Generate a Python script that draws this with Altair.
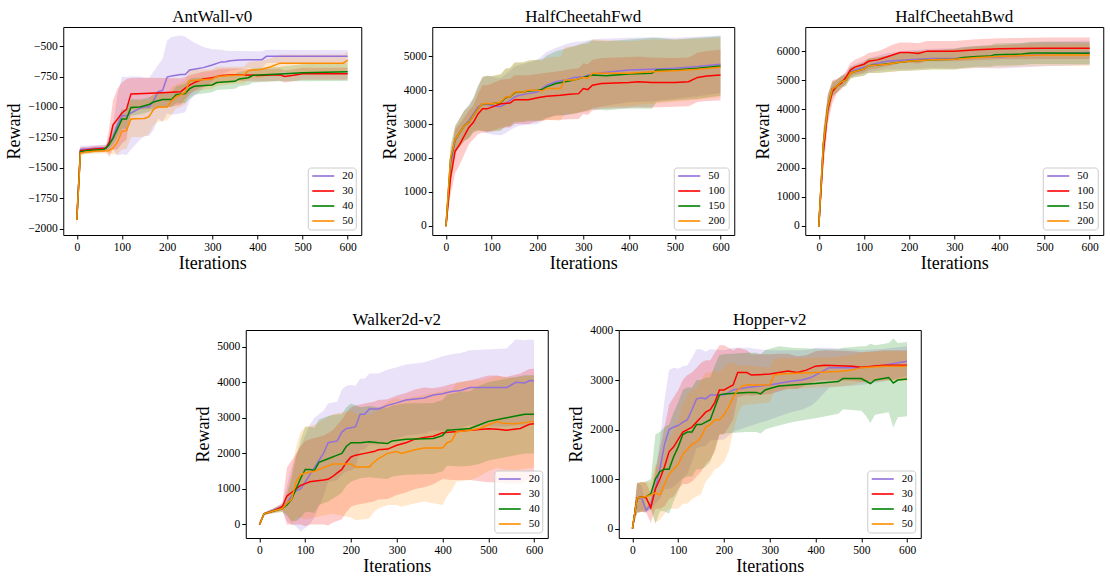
import altair as alt
import pandas as pd

FONT = "Liberation Serif"
PALETTE = ["#9370DB", "#FF0000", "#008000", "#FF8C00"]
X_TICKS = [0, 100, 200, 300, 400, 500, 600]
X_DOMAIN = [-30, 630]

# ---------------- AntWall-v0 ----------------
ANT_LABELS = ["20", "30", "40", "50"]
ANT_X = {
    "20": [0, 8, 20, 40, 65, 80, 90, 100, 110, 120, 140, 150, 160, 170, 180, 190, 200, 210, 230, 240,
           250, 260, 280, 300, 320, 330, 340, 360, 380, 410, 420, 600],
    "30": [0, 8, 20, 40, 65, 72, 80, 90, 100, 110, 120, 150, 200, 230, 240, 250, 260, 280, 300, 320,
           350, 400, 450, 460, 480, 500, 600],
    "40": [0, 8, 20, 40, 60, 70, 80, 90, 100, 110, 120, 140, 150, 160, 170, 180, 190, 210, 220, 240,
           250, 260, 300, 310, 350, 360, 380, 390, 450, 500, 600],
    "50": [0, 8, 20, 40, 70, 80, 90, 100, 110, 120, 130, 150, 160, 170, 180, 200, 210, 220, 230, 240,
           250, 300, 310, 350, 370, 380, 410, 430, 450, 590, 600],
}
ANT_MEAN = {
    "20": [-1930, -1350, -1345, -1340, -1335, -1250, -1150, -1070, -1075, -1050, -1010, -1000, -1000, -950,
           -875, -865, -755, -745, -733, -733, -697, -690, -677, -655, -630, -628, -620, -615, -612, -612,
           -584, -584],
    "30": [-1930, -1360, -1355, -1345, -1340, -1290, -1150, -1100, -1050, -1020, -893, -890, -882, -875,
           -845, -820, -800, -770, -760, -742, -735, -741, -735, -750, -740, -727, -727],
    "40": [-1930, -1370, -1360, -1355, -1350, -1320, -1260, -1180, -1100, -1100, -1005, -1000, -990, -980,
           -960, -950, -940, -940, -900, -890, -850, -830, -820, -800, -790, -770, -760, -740, -730, -720,
           -711],
    "50": [-1930, -1380, -1370, -1365, -1360, -1340, -1290, -1200, -1195, -1100, -1098, -1095, -1080, -1020,
           -1000, -1000, -950, -916, -900, -880, -785, -770, -750, -740, -740, -700, -690, -670, -640, -640,
           -615],
}
ANT_STD = {
    "20": [50, 30, 25, 25, 25, 100, 250, 320, 320, 300, 260, 240, 240, 240, 220, 260, 300, 320, 320, 310,
           250, 220, 170, 130, 100, 90, 80, 75, 70, 70, 55, 50],
    "30": [50, 30, 25, 25, 25, 120, 200, 250, 250, 250, 130, 130, 120, 110, 90, 80, 70, 60, 60, 55,
           50, 50, 50, 50, 50, 50, 50],
    "40": [40, 20, 20, 20, 20, 30, 50, 70, 80, 80, 70, 60, 60, 60, 60, 60, 60, 60, 70, 80,
           80, 70, 60, 60, 60, 60, 60, 60, 60, 70, 75],
    "50": [50, 20, 20, 20, 20, 50, 100, 150, 150, 150, 150, 150, 140, 130, 120, 110, 110, 100, 100, 100,
           90, 80, 80, 70, 70, 70, 70, 70, 70, 70, 70],
}

# ---------------- HalfCheetahFwd ----------------
FWD_LABELS = ["50", "100", "150", "200"]
FWD_X = {
    "50": [0, 10, 20, 30, 40, 50, 60, 70, 80, 90, 100, 110, 120, 130, 140, 150, 160, 180, 200, 220,
           240, 260, 280, 300, 320, 340, 400, 450, 500, 550, 600],
    "100": [0, 10, 20, 30, 40, 50, 60, 70, 80, 90, 100, 120, 140, 150, 180, 200, 220, 250, 270, 290,
            300, 310, 320, 340, 400, 420, 450, 500, 530, 550, 570, 600],
    "150": [0, 10, 20, 30, 40, 50, 60, 70, 80, 90, 100, 120, 130, 140, 150, 170, 180, 200, 210, 220,
            240, 260, 280, 300, 320, 350, 400, 450, 460, 500, 550, 600],
    "200": [0, 10, 20, 30, 40, 50, 60, 70, 80, 90, 100, 110, 120, 130, 140, 150, 170, 180, 200, 210,
            220, 250, 260, 280, 300, 310, 320, 400, 450, 500, 550, 600],
}
FWD_MEAN = {
    "50": [-20, 1800, 2500, 2750, 2950, 3100, 3300, 3500, 3580, 3580, 3550, 3530, 3520, 3600, 3700, 3800,
           3850, 3900, 3950, 4150, 4250, 4300, 4380, 4400, 4480, 4520, 4600, 4620, 4650, 4700, 4770],
    "100": [-20, 1400, 2200, 2400, 2650, 2900, 3050, 3300, 3450, 3450, 3500, 3600, 3620, 3720, 3720, 3780,
            3820, 3850, 3880, 3900, 4050, 4020, 4150, 4200, 4230, 4250, 4230, 4230, 4250, 4380, 4420, 4450],
    "150": [-20, 1950, 2550, 2750, 2950, 3050, 3250, 3450, 3600, 3600, 3600, 3640, 3780, 3800, 3930, 3950,
            3980, 4000, 4020, 4100, 4200, 4250, 4300, 4380, 4450, 4430, 4480, 4500, 4600, 4600, 4650, 4720],
    "200": [-20, 2000, 2550, 2750, 2950, 3050, 3250, 3450, 3600, 3610, 3600, 3620, 3650, 3800, 3800, 3950,
            3950, 4000, 4000, 3980, 4050, 4050, 4300, 4300, 4380, 4350, 4500, 4500, 4550, 4580, 4620, 4680],
}
FWD_STD = {
    "50": [30, 350, 400, 420, 450, 480, 500, 650, 800, 850, 850, 850, 850, 870, 880, 900, 900, 920, 950,
           980, 1000, 1050, 1050, 1050, 1020, 1000, 950, 950, 900, 880, 850],
    "100": [50, 500, 650, 600, 550, 500, 500, 600, 700, 700, 700, 710, 720, 720, 720, 700, 700, 720, 740,
            750, 750, 750, 750, 750, 750, 750, 740, 720, 720, 730, 740, 750],
    "150": [30, 350, 400, 420, 450, 480, 500, 650, 800, 820, 820, 830, 850, 860, 880, 880, 890, 900, 900,
            920, 950, 980, 1000, 1000, 1020, 1020, 1020, 1050, 950, 900, 900, 880],
    "200": [30, 350, 400, 420, 450, 480, 500, 650, 800, 820, 820, 820, 830, 850, 860, 880, 880, 890, 900,
            900, 920, 950, 980, 1000, 1000, 1000, 1000, 950, 950, 920, 900, 880],
}

# ---------------- HalfCheetahBwd ----------------
BWD_LABELS = ["50", "100", "150", "200"]
BWD_X = {
    "50": [0, 10, 20, 30, 40, 50, 60, 70, 80, 100, 120, 150, 200, 250, 300, 350, 400, 500, 600],
    "100": [0, 10, 20, 30, 40, 50, 60, 70, 80, 100, 110, 130, 140, 160, 180, 200, 220, 240, 300, 350,
            400, 500, 600],
    "150": [0, 10, 20, 30, 40, 50, 60, 70, 80, 100, 110, 130, 150, 180, 200, 250, 300, 320, 350, 380,
            390, 450, 470, 500, 600],
    "200": [0, 10, 20, 30, 40, 50, 60, 70, 80, 100, 110, 130, 150, 180, 200, 250, 300, 350, 400, 450,
            500, 600],
}
BWD_MEAN = {
    "50": [-30, 2700, 4050, 4650, 4800, 4950, 5050, 5280, 5350, 5450, 5550, 5650, 5700, 5750, 5750, 5800,
           5800, 5900, 5950],
    "100": [-30, 2500, 4000, 4600, 4800, 4900, 5100, 5350, 5450, 5550, 5650, 5700, 5750, 5850, 5950, 5950,
            5920, 6000, 6000, 6050, 6080, 6100, 6100],
    "150": [-30, 2800, 4100, 4700, 4800, 4950, 5000, 5250, 5300, 5380, 5500, 5520, 5560, 5620, 5650, 5700,
            5720, 5780, 5820, 5830, 5880, 5900, 5940, 5940, 5930],
    "200": [-30, 2800, 4100, 4700, 4800, 4950, 5000, 5250, 5300, 5380, 5500, 5520, 5550, 5620, 5650, 5700,
            5720, 5780, 5820, 5850, 5870, 5870],
}
BWD_STD = {
    "50": [50, 500, 400, 250, 220, 200, 200, 200, 200, 230, 250, 280, 320, 330, 350, 380, 400, 420, 420],
    "100": [50, 600, 500, 400, 250, 220, 200, 230, 250, 280, 290, 300, 300, 350, 350, 350, 350, 350, 350,
            360, 360, 370, 370],
    "150": [50, 500, 400, 250, 220, 200, 200, 200, 200, 230, 250, 270, 280, 300, 320, 330, 350, 360, 360,
            370, 380, 380, 380, 380, 380],
    "200": [50, 500, 400, 250, 220, 200, 200, 200, 200, 230, 250, 270, 280, 300, 320, 330, 350, 360, 380,
            380, 380, 380],
}

# ---------------- Walker2d-v2 ----------------
WALKER_LABELS = ["20", "30", "40", "50"]
WALKER_X = {
    "20": [0, 10, 20, 30, 40, 50, 60, 70, 80, 90, 100, 110, 120, 130, 140, 150, 170, 180, 190, 200,
           210, 220, 230, 240, 260, 280, 300, 320, 340, 360, 380, 400, 420, 440, 460, 540, 560, 580, 590, 600],
    "30": [0, 10, 30, 50, 60, 70, 80, 90, 100, 110, 140, 150, 160, 170, 180, 190, 200, 210, 230, 250,
           260, 280, 300, 320, 340, 360, 380, 400, 420, 460, 500, 520, 540, 570, 590, 600],
    "40": [0, 10, 30, 50, 60, 70, 80, 90, 100, 110, 120, 130, 150, 170, 180, 190, 200, 220, 240, 260,
           280, 290, 320, 380, 400, 410, 440, 460, 480, 500, 540, 560, 580, 600],
    "50": [0, 10, 30, 50, 60, 70, 80, 90, 100, 120, 140, 160, 200, 210, 240, 250, 260, 280, 300, 310,
           340, 360, 400, 410, 420, 430, 460, 480, 500, 510, 520, 530, 560, 600],
}
WALKER_MEAN = {
    "20": [0, 300, 350, 400, 450, 500, 600, 800, 950, 1000, 1200, 1400, 1600, 1800, 2000, 2300, 2350, 2600,
           2700, 2720, 2750, 3100, 3100, 3250, 3250, 3350, 3420, 3500, 3530, 3560, 3640, 3680, 3740, 3770,
           3850, 3850, 4000, 3980, 4050, 4040],
    "30": [0, 300, 380, 500, 800, 900, 1000, 1100, 1150, 1200, 1250, 1270, 1350, 1450, 1550, 1750, 1900,
           1950, 2000, 2050, 2100, 2120, 2230, 2300, 2400, 2450, 2480, 2580, 2600, 2650, 2690, 2680, 2650,
           2700, 2820, 2830],
    "40": [0, 300, 380, 450, 550, 700, 1000, 1300, 1550, 1550, 1520, 1750, 1850, 1950, 2000, 2200, 2300,
           2300, 2330, 2300, 2280, 2350, 2400, 2420, 2500, 2650, 2680, 2700, 2800, 2900, 3000, 3050, 3100,
           3100],
    "50": [0, 300, 380, 450, 600, 700, 1200, 1400, 1450, 1500, 1600, 1700, 1700, 1620, 1620, 1750, 1850,
           2000, 2050, 2000, 2100, 2150, 2150, 2300, 2350, 2600, 2650, 2700, 2800, 2850, 2900, 2850, 2830,
           2900],
}
WALKER_STD = {
    "20": [0, 30, 50, 60, 80, 100, 500, 800, 1000, 1200, 1300, 1400, 1400, 1300, 1200, 1100, 1100, 1200,
           1200, 1200, 1150, 1000, 1000, 1000, 1000, 1000, 1000, 1000, 1000, 1000, 1000, 1050, 1050, 1050,
           1050, 1100, 1200, 1200, 1150, 1150],
    "30": [0, 30, 60, 100, 800, 900, 1000, 1100, 1200, 1200, 1250, 1300, 1300, 1350, 1400, 1400, 1400,
           1400, 1400, 1400, 1400, 1400, 1400, 1400, 1400, 1400, 1350, 1300, 1350, 1400, 1500, 1500, 1500,
           1550, 1550, 1550],
    "40": [0, 30, 60, 100, 300, 600, 900, 1100, 1200, 1200, 1200, 1200, 1200, 1150, 1100, 1100, 1100,
           1000, 1000, 1000, 1000, 1000, 1000, 1000, 1000, 1000, 1050, 1050, 1100, 1100, 1100, 1100, 1100,
           1100],
    "50": [0, 30, 60, 100, 300, 700, 1000, 1200, 1300, 1300, 1350, 1400, 1500, 1500, 1450, 1400, 1400,
           1450, 1500, 1500, 1500, 1500, 1600, 1500, 1400, 1400, 1400, 1350, 1300, 1300, 1300, 1300, 1300,
           1300],
}

# ---------------- Hopper-v2 ----------------
HOPPER_LABELS = ["20", "30", "40", "50"]
HOPPER_X = {
    "20": [0, 10, 20, 30, 40, 50, 60, 70, 80, 90, 100, 110, 120, 130, 140, 150, 160, 170, 200, 220,
           250, 300, 330, 350, 370, 390, 400, 420, 430, 500, 550, 600],
    "30": [0, 10, 20, 30, 40, 50, 60, 70, 80, 90, 100, 110, 120, 130, 140, 150, 160, 170, 180, 190,
           200, 210, 220, 230, 250, 260, 300, 320, 340, 360, 380, 400, 420, 480, 500, 550, 600],
    "40": [0, 10, 30, 40, 50, 60, 70, 80, 90, 100, 110, 120, 130, 140, 150, 160, 170, 180, 190, 200,
           250, 270, 280, 290, 300, 320, 350, 400, 450, 460, 500, 510, 520, 530, 560, 570, 580, 600],
    "50": [0, 10, 30, 40, 50, 60, 70, 80, 90, 100, 110, 120, 130, 140, 150, 160, 170, 180, 190, 200,
           210, 220, 230, 240, 250, 300, 310, 320, 400, 450, 480, 500, 550, 600],
}
HOPPER_MEAN = {
    "20": [0, 620, 620, 370, 480, 800, 1200, 1700, 2000, 2050, 2080, 2150, 2200, 2400, 2620, 2640, 2620,
           2700, 2700, 2800, 2850, 2900, 2950, 2980, 3000, 3050, 3100, 3200, 3250, 3250, 3300, 3380],
    "30": [0, 620, 640, 620, 420, 800, 1000, 1250, 1550, 1650, 1800, 1950, 2000, 2050, 2150, 2250, 2350,
           2400, 2550, 2800, 2800, 2850, 2900, 3150, 3150, 3100, 3120, 3150, 3180, 3150, 3200, 3280, 3300,
           3280, 3260, 3300, 3300],
    "40": [0, 620, 650, 700, 1000, 1150, 1200, 1200, 1450, 1650, 1900, 1950, 1950, 2100, 2100, 2150, 2200,
           2450, 2700, 2720, 2750, 2750, 2720, 2800, 2830, 2880, 2900, 2930, 2970, 3030, 3030, 2980, 2930,
           3000, 3050, 2940, 3000, 3020],
    "50": [0, 620, 650, 680, 720, 680, 900, 1100, 1200, 1300, 1500, 1600, 1700, 1750, 1850, 2050, 2100,
           2200, 2200, 2300, 2450, 2650, 2800, 2880, 2900, 2900, 3100, 3120, 3150, 3170, 3200, 3250, 3280,
           3280],
}
HOPPER_STD = {
    "20": [0, 300, 250, 50, 100, 300, 600, 900, 1200, 1200, 1150, 1130, 1100, 1050, 1000, 980, 950, 920,
           900, 850, 800, 700, 650, 620, 600, 570, 550, 450, 400, 350, 330, 300],
    "30": [0, 300, 300, 300, 300, 400, 600, 800, 950, 1000, 1000, 1050, 1100, 1100, 1100, 1100, 1050, 1000,
           1000, 900, 900, 800, 700, 500, 450, 420, 400, 380, 350, 330, 300, 300, 300, 300, 300, 300, 300],
    "40": [0, 300, 300, 300, 900, 800, 850, 900, 900, 900, 900, 900, 900, 900, 900, 900, 850, 850, 800,
           800, 800, 800, 800, 800, 800, 800, 750, 700, 650, 620, 650, 700, 800, 700, 700, 900, 750, 750],
    "50": [0, 300, 300, 250, 600, 500, 600, 700, 800, 900, 1000, 1100, 1100, 1100, 1150, 1100, 1050, 1000,
           950, 950, 900, 700, 500, 400, 400, 350, 330, 320, 300, 300, 300, 300, 300, 300],
}

ONE_ROW = pd.DataFrame({"k": [0]})


def series_frame(xs, means, stds):
    df = pd.DataFrame({"iteration": xs, "reward": means, "spread": stds})
    df["lo"] = df["reward"] - df["spread"]
    df["hi"] = df["reward"] + df["spread"]
    return df


def legend_layers(labels, width, height):
    """Framed legend in the lower right corner of the plot area."""
    box_w = 48 if max(len(s) for s in labels) <= 2 else 55
    box_h = 62
    right = width - 5
    bottom = height - 5
    left = right - box_w
    top = bottom - box_h
    layers = [
        alt.Chart(ONE_ROW).mark_rect(fill="white", fillOpacity=0.8, stroke="#cccccc", strokeWidth=1,
                                     cornerRadius=3).encode(
            x=alt.value(left), x2=alt.value(right), y=alt.value(top), y2=alt.value(bottom))
    ]
    for i, (lab, col) in enumerate(zip(labels, PALETTE)):
        yy = top + 8 + 15 * i
        layers.append(alt.Chart(ONE_ROW).mark_rule(color=col, strokeWidth=1.6).encode(
            x=alt.value(left + 4), x2=alt.value(left + 26), y=alt.value(yy)))
        layers.append(alt.Chart(ONE_ROW).mark_text(align="left", baseline="middle", font=FONT, fontSize=11,
                                                   color="black").encode(
            x=alt.value(left + 34), y=alt.value(yy), text=alt.value(lab)))
    return layers


def title_layer(title, width):
    # panel heading sits a fixed distance above the frame
    return alt.Chart(ONE_ROW).mark_text(align="center", baseline="alphabetic", font=FONT, fontSize=17,
                                        color="black").encode(
        x=alt.value(width / 2), y=alt.value(-5), text=alt.value(title))


def panel(title, labels, xs, means, stds, y_domain, y_ticks, width, height):
    x_enc = alt.X("iteration:Q", scale=alt.Scale(domain=X_DOMAIN, nice=False, zero=False),
                  axis=alt.Axis(values=X_TICKS, format="d", title="Iterations", titlePadding=2,
                                titleFontSize=18))
    y_scale = alt.Scale(domain=y_domain, nice=False, zero=False)
    y_axis = alt.Axis(values=y_ticks, format="d", title="Reward", titlePadding=4, titleFontSize=18)
    bands, lines = [], []
    for lab, col in zip(labels, PALETTE):
        df = series_frame(xs[lab], means[lab], stds[lab])
        bands.append(alt.Chart(df).mark_area(color=col, opacity=0.2, clip=True).encode(
            x=x_enc, y=alt.Y("lo:Q", scale=y_scale, axis=y_axis), y2="hi:Q"))
        lines.append(alt.Chart(df).mark_line(color=col, strokeWidth=1.5, clip=True).encode(
            x=x_enc, y=alt.Y("reward:Q", scale=y_scale, axis=y_axis)))
    layers = bands + lines + legend_layers(labels, width, height) + [title_layer(title, width)]
    return alt.layer(*layers).properties(width=width, height=height)


p1 = panel("AntWall-v0", ANT_LABELS, ANT_X, ANT_MEAN, ANT_STD, [-2053, -343],
           [-2000, -1750, -1500, -1250, -1000, -750, -500], 298, 208)
p2 = panel("HalfCheetahFwd", FWD_LABELS, FWD_X, FWD_MEAN, FWD_STD, [-280, 5870],
           [0, 1000, 2000, 3000, 4000, 5000], 302, 208)
p3 = panel("HalfCheetahBwd", BWD_LABELS, BWD_X, BWD_MEAN, BWD_STD, [-320, 6830],
           [0, 1000, 2000, 3000, 4000, 5000, 6000], 298, 208)
p4 = panel("Walker2d-v2", WALKER_LABELS, WALKER_X, WALKER_MEAN, WALKER_STD, [-380, 5470],
           [0, 1000, 2000, 3000, 4000, 5000], 302, 208)
p5 = panel("Hopper-v2", HOPPER_LABELS, HOPPER_X, HOPPER_MEAN, HOPPER_STD, [-190, 4010],
           [0, 1000, 2000, 3000, 4000], 302, 208)

top_row = alt.hconcat(p1, p2, p3, spacing=18)
bottom_row = alt.hconcat(p4, p5, spacing=18)

chart = (
    alt.vconcat(top_row, bottom_row, spacing=37, center=True)
    .properties(padding={"left": 5, "top": 7, "right": 5, "bottom": 0}, background="white")
    .configure_axis(
        labelFont=FONT, titleFont=FONT, labelFontSize=11.5, titleFontSize=18, titleFontWeight="normal",
        labelColor="black", titleColor="black", tickColor="black", tickSize=4, labelPadding=2,
        grid=False, domain=False,
    )
    .configure_view(stroke="black", strokeWidth=1)
)

chart.save("out.html", embed_options={"renderer": "svg", "actions": False})
